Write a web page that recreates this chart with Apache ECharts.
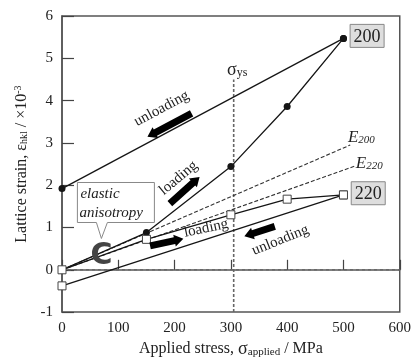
<!DOCTYPE html>
<html>
<head>
<meta charset="utf-8">
<script src="https://cdn.jsdelivr.net/npm/echarts@6/dist/echarts.min.js"></script>
<style>
  html, body { margin: 0; padding: 0; background: #fff; }
  #chart { width: 414px; height: 363px; }
</style>
</head>
<body>
<div id="chart"></div>
<script>
// measured values (stress in MPa, strain x10^-3)
const stress200Load = [0, 150, 300, 400, 500]
const strain200Load = [0, 0.88, 2.44, 3.86, 5.47]
const stress200Unload = [500, 0]
const strain200Unload = [5.47, 1.92]
const stress220Load = [0, 150, 300, 400, 500]
const strain220Load = [0, 0.72, 1.30, 1.67, 1.77]
const stress220Unload = [500, 0]
const strain220Unload = [1.77, -0.38]
// elastic (diffraction modulus) lines
const e200Stress = [0, 512]
const e200Strain = [0, 2.95]
const e220Stress = [0, 520]
const e220Strain = [0, 2.45]
const yieldStress = 305
const yieldTop = 4.5

const xTicks = [0, 100, 200, 300, 400, 500, 600]
const yTicks = [-1, 0, 1, 2, 3, 4, 5, 6]

const pair = (xs, ys) => xs.map((x, i) => [x, ys[i]])
const serif = '"Liberation Serif", "DejaVu Serif", serif'
const ink = '#151515'

const chart = echarts.init(document.getElementById('chart'))

const lineSeries = (name, data, extra) => Object.assign({
  name,
  type: 'line',
  data,
  animation: false,
  lineStyle: { color: ink, width: 1.3 },
  symbol: 'none',
  z: 3
}, extra)

chart.setOption({
  animation: false,
  grid: {
    left: 62, right: 10, top: 16, bottom: 46,
    show: true, borderColor: '#555', borderWidth: 1.5
  },
  xAxis: {
    type: 'value',
    min: xTicks[0], max: xTicks[xTicks.length - 1], interval: 100,
    name: 'Applied stress, {g|σ}{sub|applied} / MPa',
    nameLocation: 'middle',
    nameGap: 27,
    nameTextStyle: {
      fontFamily: serif, fontSize: 16, color: '#222',
      rich: {
        g: { fontFamily: serif, fontSize: 18, color: '#222' },
        sub: { fontFamily: serif, fontSize: 11, color: '#222', verticalAlign: 'bottom', lineHeight: 10, padding: [7, 0, 0, 0] }
      }
    },
    axisLine: { show: true, lineStyle: { color: '#555', width: 1.5 } },
    axisTick: { show: true, inside: true, length: 10, lineStyle: { color: '#444', width: 1.2 } },
    axisLabel: { fontFamily: serif, fontSize: 15, color: '#222', margin: 8 },
    splitLine: { show: false }
  },
  yAxis: {
    type: 'value',
    min: yTicks[0], max: yTicks[yTicks.length - 1], interval: 1,
    name: 'Lattice strain, ε{sub|hkl} / ×10{sup|-3}',
    nameLocation: 'middle',
    nameRotate: 90,
    nameGap: 30,
    nameTextStyle: {
      fontFamily: serif, fontSize: 16, color: '#222',
      rich: {
        sub: { fontFamily: serif, fontSize: 10, color: '#222', verticalAlign: 'bottom', lineHeight: 10, padding: [6, 0, 0, 0] },
        sup: { fontFamily: serif, fontSize: 10, color: '#222', verticalAlign: 'top', lineHeight: 10 }
      }
    },
    axisLine: { show: true, onZero: false, lineStyle: { color: '#555', width: 1.5 } },
    axisTick: { show: true, inside: true, length: 12, lineStyle: { color: '#444', width: 1.2 } },
    axisLabel: { fontFamily: serif, fontSize: 15, color: '#222', margin: 9 },
    splitLine: { show: false }
  },
  series: [
    lineSeries('zero', [[xTicks[0], 0], [xTicks[xTicks.length - 1], 0]], {
      lineStyle: { color: '#666', width: 1.3, type: [3, 3] }, z: 1
    }),
    lineSeries('yield', [[yieldStress, yTicks[0]], [yieldStress, yieldTop]], {
      lineStyle: { color: '#666', width: 1.6, type: [3, 2] }, z: 1
    }),
    lineSeries('E200', pair(e200Stress, e200Strain), {
      lineStyle: { color: '#333', width: 1.1, type: [4, 2] }, z: 2
    }),
    lineSeries('E220', pair(e220Stress, e220Strain), {
      lineStyle: { color: '#333', width: 1.1, type: [4, 2] }, z: 2
    }),
    lineSeries('200 unloading', pair(stress200Unload, strain200Unload), {
      symbol: 'circle', symbolSize: 7, itemStyle: { color: ink }
    }),
    lineSeries('200 loading', pair(stress200Load, strain200Load), {
      symbol: 'circle', symbolSize: 7, itemStyle: { color: ink }
    }),
    lineSeries('220 unloading', pair(stress220Unload, strain220Unload), {
      symbol: 'rect', symbolSize: 8, z: 4,
      itemStyle: { color: '#fff', borderColor: '#444', borderWidth: 1 }
    }),
    lineSeries('220 loading', pair(stress220Load, strain220Load), {
      symbol: 'rect', symbolSize: 8, z: 4,
      itemStyle: { color: '#fff', borderColor: '#444', borderWidth: 1 }
    })
  ]
})

// annotations anchored in data coordinates
const px = (x, y) => chart.convertToPixel({ gridIndex: 0 }, [x, y])
const deg = (d) => d * Math.PI / 180

const arrow = (x, y, angle, len) => {
  const [cx, cy] = px(x, y)
  const h = len / 2, t = 3.5, w = 6, head = 9
  return {
    type: 'polygon', x: cx, y: cy, rotation: deg(angle), z: 10,
    shape: { points: [[-h, -t], [h - head, -t], [h - head, -w], [h, 0], [h - head, w], [h - head, t], [-h, t]] },
    style: { fill: '#000' }
  }
}

const label = (x, y, text, angle, size, italic) => {
  const [cx, cy] = px(x, y)
  return {
    type: 'text', x: cx, y: cy, rotation: deg(angle || 0), z: 11,
    style: {
      text, fill: '#222', align: 'center', verticalAlign: 'middle',
      textAlign: 'center', textVerticalAlign: 'middle',
      font: (italic ? 'italic ' : '') + size + 'px ' + serif
    }
  }
}

const boxLabel = (x, y, text) => {
  const [cx, cy] = px(x, y)
  return [
    { type: 'rect', x: cx, y: cy, z: 10, shape: { x: -17, y: -11.5, width: 34, height: 23 },
      style: { fill: '#dedede', stroke: '#888', lineWidth: 1 } },
    { type: 'text', x: cx, y: cy + 1, z: 11,
      style: { text, fill: '#222', align: 'center', verticalAlign: 'middle', textAlign: 'center', textVerticalAlign: 'middle', font: '18px ' + serif } }
  ]
}

const subLabel = (x, y, main, sub, italic, mainSize, subSize) => {
  const [cx, cy] = px(x, y)
  const st = italic ? 'italic' : 'normal'
  return {
    type: 'text', x: cx, y: cy, z: 11,
    style: {
      text: '{m|' + main + '}{s|' + sub + '}',
      align: 'left', verticalAlign: 'middle', textAlign: 'left', textVerticalAlign: 'middle',
      rich: {
        m: { fontFamily: serif, fontStyle: st, fontSize: mainSize, fill: '#222', color: '#222' },
        s: { fontFamily: serif, fontStyle: st, fontSize: subSize, fill: '#222', color: '#222', verticalAlign: 'bottom', lineHeight: 10, padding: [7, 0, 0, 0] }
      }
    }
  }
}

const callout = () => {
  const [tx, ty] = px(70, 0.74)
  return [
    { type: 'polygon', x: tx, y: ty, z: 9,
      shape: { points: [[-24, -56], [53, -56], [53, -16], [6, -16], [0, 0], [-5, -16], [-24, -16]] },
      style: { fill: '#fff', stroke: '#888', lineWidth: 1 } },
    { type: 'text', x: tx - 21, y: ty - 44, z: 11,
      style: { text: 'elastic', fill: '#222', align: 'left', verticalAlign: 'middle', textAlign: 'left', textVerticalAlign: 'middle', font: 'italic 15px ' + serif } },
    { type: 'text', x: tx - 22, y: ty - 25, z: 11,
      style: { text: 'anisotropy', fill: '#222', align: 'left', verticalAlign: 'middle', textAlign: 'left', textVerticalAlign: 'middle', font: 'italic 15px ' + serif } },
    { type: 'text', x: tx, y: ty + 18, z: 11,
      style: { text: 'C', fill: '#444', align: 'center', verticalAlign: 'middle', textAlign: 'center', textVerticalAlign: 'middle', font: 'bold 30px "DejaVu Sans", sans-serif' } }
  ]
}

chart.setOption({
  graphic: [
    label(177, 3.81, 'unloading', 28, 15),
    arrow(191, 3.42, 208, 50),
    label(207, 2.17, 'loading', 40, 15),
    arrow(218, 1.88, 42, 40),
    label(256, 0.98, 'loading', 12, 15),
    arrow(186, 0.65, 12, 34),
    label(388, 0.70, 'unloading', 22, 15),
    arrow(351, 0.91, 198, 32),
    ...boxLabel(542, 5.53, '200'),
    ...boxLabel(544, 1.81, '220'),
    subLabel(293, 4.72, 'σ', 'ys', false, 18, 12),
    subLabel(508, 3.13, 'E', '200', true, 17, 11),
    subLabel(522, 2.52, 'E', '220', true, 17, 11),
    ...callout()
  ]
})
</script>
</body>
</html>
